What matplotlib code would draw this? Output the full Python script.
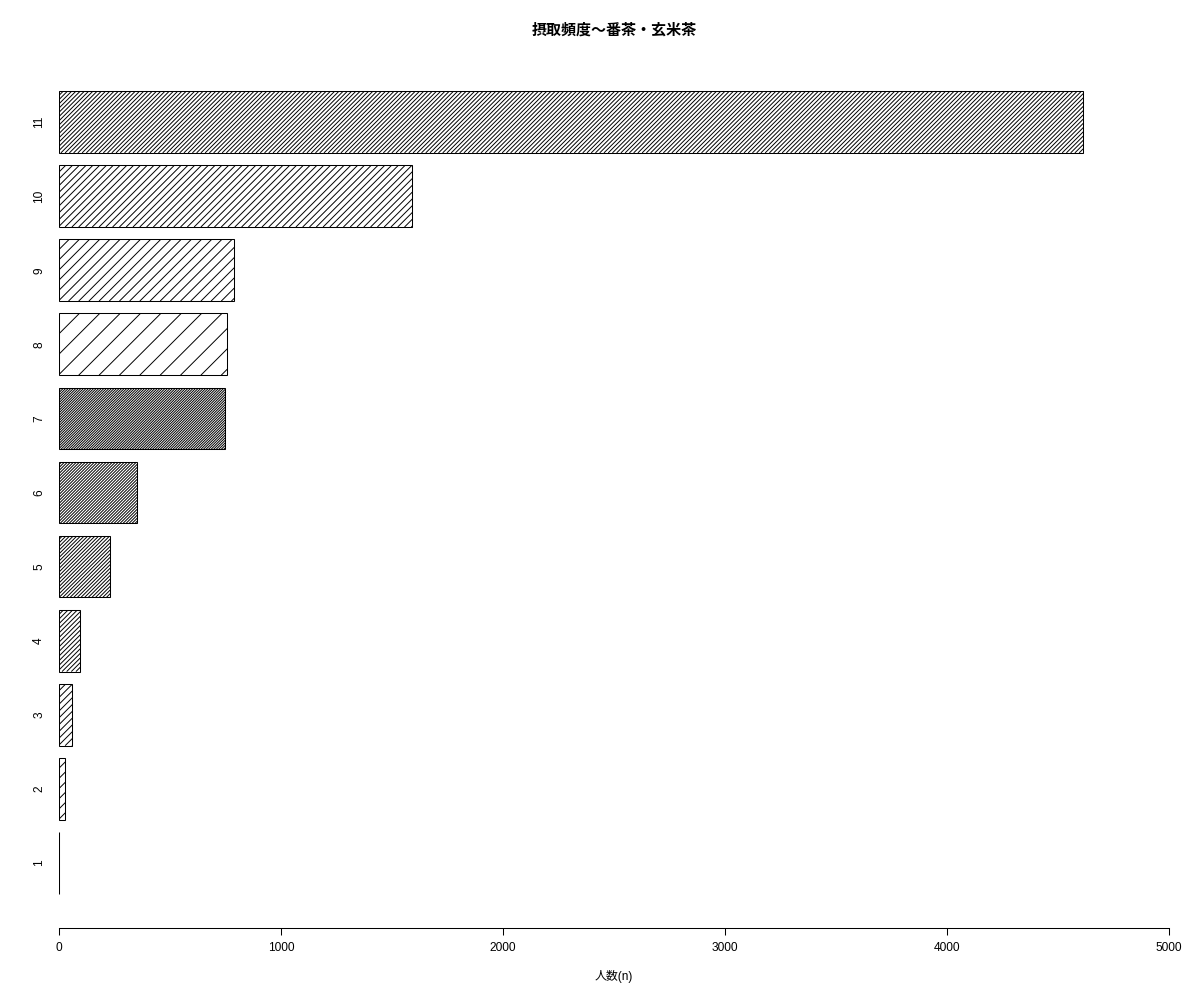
"""Horizontal bar chart of intake frequency (bancha / genmaicha) with R-style density hatching."""

import matplotlib

matplotlib.use("Agg")
import matplotlib.pyplot as plt
import numpy as np
from matplotlib.collections import LineCollection
from matplotlib.transforms import IdentityTransform

plt.rcParams["font.family"] = ["Liberation Sans", "Noto Sans CJK JP", "DejaVu Sans"]

categories = ["1", "2", "3", "4", "5", "6", "7", "8", "9", "10", "11"]
counts = [1, 28, 59, 93, 230, 352, 748, 757, 789, 1590, 4612]
title = "摂取頻度〜番茶・玄米茶"
xlabel = "人数(n)"

# hatch density (lines per inch at 72 dpi, as in R's barplot)
densities = [5, 10, 15, 22, 28, 34, 40, 5, 10, 15, 24]

W, H = 1200, 1000
fig = plt.figure(figsize=(W / 100, H / 100), dpi=100)
ax = fig.add_axes([59 / W, 72 / H, 1110 / W, (928 - 45.7) / H])

pos = 0.7 + 1.2 * np.arange(len(counts))
faces = ax.barh(pos, counts, height=1.0, color="white", edgecolor="none", zorder=1)
ax.barh(pos, counts, height=1.0, fill=False, edgecolor="black",
        linewidth=0.75, zorder=3)
ax.set_xlim(0, 5000)
ax.set_ylim(-0.353, 13.936)

# hatch lines drawn in pixel space so they sit at 45 degrees
for bar, d in zip(faces, densities):
    (x0, y0), (x1, y1) = ax.transData.transform(
        [(bar.get_x(), bar.get_y()),
         (bar.get_x() + bar.get_width(), bar.get_y() + bar.get_height())])
    step = 72 * np.sqrt(2) / d
    h = y1 - y0
    offsets = np.arange(x0 - h, x1 + step, step)
    segs = [[(c, y0), (c + h, y1)] for c in offsets]
    lc = LineCollection(segs, colors="black", linewidths=0.7,
                        transform=IdentityTransform(), zorder=2)
    ax.add_collection(lc, autolim=False)
    lc.set_clip_path(bar)

for side in ["left", "top", "right"]:
    ax.spines[side].set_visible(False)
ax.spines["bottom"].set_linewidth(0.75)

ax.set_xticks([0, 1000, 2000, 3000, 4000, 5000])
ax.tick_params(axis="x", direction="out", length=5, width=0.75, pad=5,
               labelsize=8.6)
ax.set_yticks(pos, categories)
ax.tick_params(axis="y", length=0, pad=10, labelsize=8.6)
for lab in ax.get_yticklabels():
    lab.set_rotation(90)
    lab.set_va("center")

fig.text(614 / W, 1 - 30 / H, title, ha="center", va="center",
         fontsize=10.8, fontweight="bold", family=["Noto Sans CJK JP", "DejaVu Sans"])
fig.text(614 / W, 1 - 976 / H, xlabel, ha="center", va="center", fontsize=8.6)

fig.savefig("out.png", dpi=100)
